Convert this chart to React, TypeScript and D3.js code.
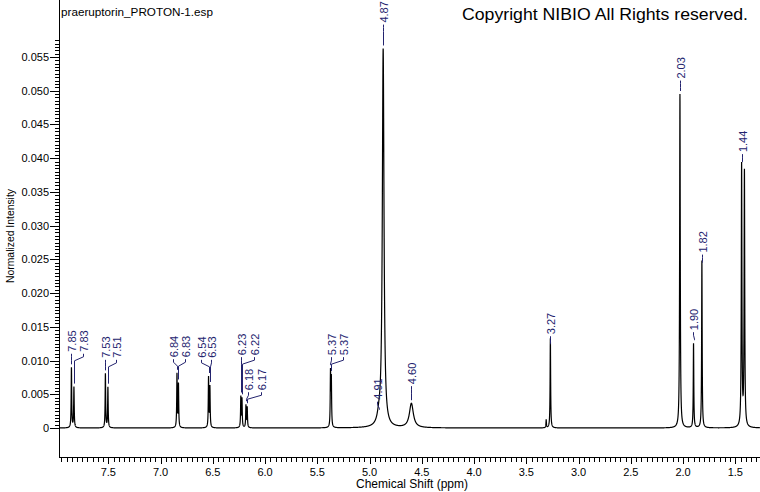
import React from 'react';
import * as d3 from 'd3';

// ---- Spectrum peaks (chemical shift in ppm, normalized intensity, line width in ppm)
const PEAK_PPM = [7.853, 7.829, 7.528, 7.504, 6.843, 6.829, 6.541, 6.528, 6.232, 6.221, 6.183, 6.171, 5.374, 5.366, 4.91, 4.87, 4.6, 3.31, 3.27, 2.03, 1.9, 1.82, 1.44, 1.413];
const PEAK_HEIGHT = [0.0089, 0.006, 0.008, 0.006, 0.0079, 0.0064, 0.0074, 0.006, 0.0045, 0.0042, 0.0033, 0.003, 0.008, 0.007, 0.0012, 0.056, 0.0036, 0.0012, 0.0133, 0.0495, 0.0125, 0.0248, 0.0388, 0.0378];
const PEAK_FWHM = [0.006, 0.006, 0.006, 0.006, 0.006, 0.006, 0.006, 0.006, 0.006, 0.006, 0.006, 0.006, 0.006, 0.006, 0.04, 0.019, 0.045, 0.005, 0.006, 0.007, 0.006, 0.006, 0.007, 0.007];

// ---- Peak labels
const LABEL_TEXT = ['7.85', '7.83', '7.53', '7.51', '6.84', '6.83', '6.54', '6.53', '6.23', '6.22', '6.18', '6.17', '5.37', '5.37', '4.91', '4.87', '4.60', '3.27', '2.03', '1.90', '1.82', '1.44'];
const LABEL_PEAK = [7.853, 7.829, 7.528, 7.504, 6.843, 6.829, 6.541, 6.528, 6.232, 6.221, 6.183, 6.171, 5.374, 5.366, 4.91, 4.87, 4.6, 3.27, 2.03, 1.9, 1.82, 1.44];
const LABEL_AT_PPM = [7.857, 7.742, 7.532, 7.427, 6.881, 6.766, 6.613, 6.517, 6.23, 6.106, 6.163, 6.039, 5.369, 5.254, 4.929, 4.872, 4.604, 3.274, 2.03, 1.905, 1.819, 1.436];
const LABEL_LEVEL = [0.0113, 0.0113, 0.0104, 0.0104, 0.0105, 0.0105, 0.0104, 0.0104, 0.0108, 0.0108, 0.0056, 0.0056, 0.0108, 0.0108, 0.0042, 0.0601, 0.0065, 0.0139, 0.0518, 0.0145, 0.026, 0.0409];

// ---- Axes
const X_DOMAIN = [7.972, 1.264];
const X_MAJOR = [7.5, 7.0, 6.5, 6.0, 5.5, 5.0, 4.5, 4.0, 3.5, 3.0, 2.5, 2.0, 1.5];
const X_MAJOR_LABELS = ['7.5', '7.0', '6.5', '6.0', '5.5', '5.0', '4.5', '4.0', '3.5', '3.0', '2.5', '2.0', '1.5'];
const Y_MAJOR = [0, 0.005, 0.01, 0.015, 0.02, 0.025, 0.03, 0.035, 0.04, 0.045, 0.05, 0.055];
const Y_MAJOR_LABELS = ['0', '0.005', '0.010', '0.015', '0.020', '0.025', '0.030', '0.035', '0.040', '0.045', '0.050', '0.055'];

const TITLE = 'praeruptorin_PROTON-1.esp';
const COPYRIGHT = 'Copyright NIBIO All Rights reserved.';
const X_TITLE = 'Chemical Shift (ppm)';
const Y_TITLE = 'Normalized Intensity';

const FONT = "'Liberation Sans', Arial, sans-serif";
const LABEL_COLOR = '#23236e';

export default function App() {
  const W = 760;
  const H = 492;
  const left = 59;
  const axisY = 457;
  const x = d3.scaleLinear().domain(X_DOMAIN).range([left, W]);
  const y = d3.scaleLinear().domain([0, 0.055]).range([428, 57]);

  const specAt = (p: number) =>
    PEAK_PPM.reduce((s, c, i) => s + PEAK_HEIGHT[i] / (1 + Math.pow((2 * (p - c)) / PEAK_FWHM[i], 2)), 0);

  const grid = d3
    .range(X_DOMAIN[0], X_DOMAIN[1], -0.0005)
    .concat(PEAK_PPM)
    .sort((a, b) => b - a);
  const pts: [number, number][] = grid.map((p) => [p, specAt(p)]);
  const line = d3
    .line<[number, number]>()
    .x((d) => x(d[0]))
    .y((d) => y(d[1]));

  const xMinor = d3.range(7.95, 1.27, -0.05).map((v) => Math.round(v * 100) / 100);
  const yMinor = d3.range(0, 0.0576, 0.0005);

  return (
    <svg
      width={W}
      height={H}
      style={{ position: 'absolute', left: 0, top: 0, background: '#fff' }}
      fontFamily={FONT}
    >
      <rect x={0} y={0} width={W} height={H} fill="#fff" />
      {/* Title & copyright */}
      <text x={61} y={16} fontSize={11} fill="#000" textLength={152} lengthAdjust="spacingAndGlyphs">
        {TITLE}
      </text>
      <text x={462} y={20} fontSize={16.5} fill="#000" textLength={286} lengthAdjust="spacingAndGlyphs">
        {COPYRIGHT}
      </text>

      {/* Y axis */}
      <line x1={left + 0.5} x2={left + 0.5} y1={0} y2={axisY} stroke="#000" shapeRendering="crispEdges" />
      {yMinor.map((v, i) => (
        <line key={'ym' + i} x1={left - 4} x2={left} y1={Math.round(y(v)) + 0.5} y2={Math.round(y(v)) + 0.5} stroke="#000" shapeRendering="crispEdges" />
      ))}
      {Y_MAJOR.map((v, i) => (
        <g key={'yM' + i}>
          <line x1={left - 9} x2={left} y1={Math.round(y(v)) + 0.5} y2={Math.round(y(v)) + 0.5} stroke="#000" shapeRendering="crispEdges" />
          <text x={49} y={y(v) + 4} fontSize={11} textAnchor="end" fill="#000">
            {Y_MAJOR_LABELS[i]}
          </text>
        </g>
      ))}
      <text transform={`translate(14,236) rotate(-90)`} fontSize={11} textAnchor="middle" fill="#000" textLength={94} lengthAdjust="spacingAndGlyphs">
        {Y_TITLE}
      </text>

      {/* X axis */}
      <line x1={left} x2={W} y1={axisY + 0.5} y2={axisY + 0.5} stroke="#000" shapeRendering="crispEdges" />
      {xMinor.map((v, i) => (
        <line key={'xm' + i} x1={Math.round(x(v)) + 0.5} x2={Math.round(x(v)) + 0.5} y1={axisY} y2={axisY + 5} stroke="#000" shapeRendering="crispEdges" />
      ))}
      {X_MAJOR.map((v, i) => (
        <g key={'xM' + i}>
          <line x1={Math.round(x(v)) + 0.5} x2={Math.round(x(v)) + 0.5} y1={axisY} y2={axisY + 7} stroke="#000" shapeRendering="crispEdges" />
          <text x={x(v)} y={476} fontSize={11} textAnchor="middle" fill="#000">
            {X_MAJOR_LABELS[i]}
          </text>
        </g>
      ))}
      <text x={412} y={488} fontSize={12} textAnchor="middle" fill="#000">
        {X_TITLE}
      </text>

      {/* Spectrum */}
      <path d={line(pts) || ''} fill="none" stroke="#000" strokeWidth={1.2} />

      {/* Peak labels */}
      {LABEL_TEXT.map((t, i) => {
        const lx = Math.round(x(LABEL_AT_PPM[i])) + 0.5;
        const px = Math.round(x(LABEL_PEAK[i])) + 0.5;
        const yb = y(LABEL_LEVEL[i]);
        const pt = y(specAt(LABEL_PEAK[i]));
        const yEnd = Math.max(yb + 10, pt - 3);
        const d = `M${lx},${yb + 2}L${lx},${yb + 5}L${px},${yb + 9}L${px},${yEnd}`;
        return (
          <g key={'lb' + i}>
            <path d={d} fill="none" stroke={LABEL_COLOR} strokeWidth={1} />
            <text transform={`translate(${lx + 4},${yb}) rotate(-90)`} fontSize={11} fill={LABEL_COLOR}>
              {t}
            </text>
          </g>
        );
      })}
    </svg>
  );
}
